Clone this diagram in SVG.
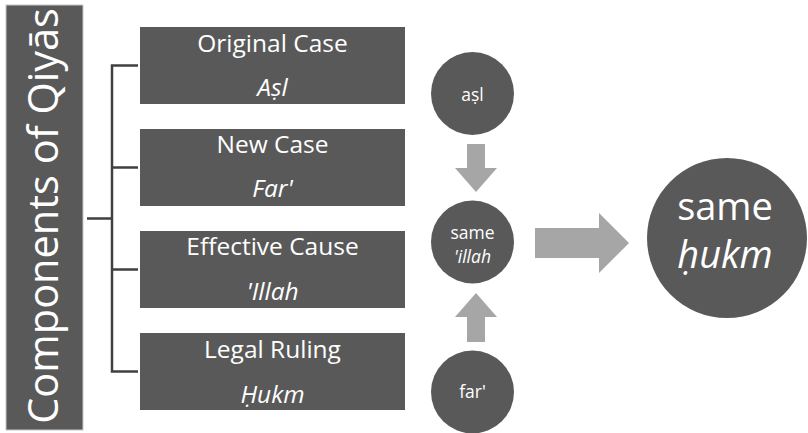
<svg xmlns="http://www.w3.org/2000/svg" width="808" height="433" viewBox="0 0 808 433">
  <style>
    .dark { fill: #595959; }
    .arrow { fill: #a6a6a6; }
    .wire { stroke: #404040; stroke-width: 2.5; fill: none; }
    text { font-family: "Open Sans", "Noto Sans", sans-serif; fill: #ffffff; text-anchor: middle; }
    .box1 { font-size: 24.5px; }
    .box2 { font-size: 24.5px; font-style: italic; }
    .small { font-size: 17.5px; }
    .big { font-size: 38px; }
  </style>

  <!-- title bar -->
  <g id="title">
    <rect x="6" y="5" width="77" height="425" class="dark" stroke="#c8c8c8" stroke-width="1"/>
    <text x="0" y="0" transform="translate(58,216) rotate(-90)" font-size="41.5">Components of Qiyās</text>
  </g>

  <!-- connectors -->
  <g id="connectors">
    <path class="wire" d="M87 218.5 H112 M138 65.5 H112 V371.5 H138 M112 167.5 H138 M112 269.5 H138"/>
    <polygon class="arrow" points="467,144 485,144 485,168 497,168 476,192 455,168 467,168"/>
    <polygon class="arrow" points="467,342 485,342 485,317 497,317 476,293 455,317 467,317"/>
    <polygon class="arrow" points="535,228 599,228 599,213 629,243 599,273 599,258 535,258"/>
  </g>

  <!-- component boxes -->
  <g id="box-asl">
    <rect x="140" y="27" width="265" height="77" class="dark"/>
    <text x="272.5" y="52" class="box1">Original Case</text>
    <text x="272.5" y="96" class="box2">Aṣl</text>
  </g>
  <g id="box-far">
    <rect x="140" y="129" width="265" height="77" class="dark"/>
    <text x="272.5" y="153" class="box1">New Case</text>
    <text x="272.5" y="197" class="box2">Far'</text>
  </g>
  <g id="box-illah">
    <rect x="140" y="231" width="265" height="77" class="dark"/>
    <text x="272.5" y="255" class="box1">Effective Cause</text>
    <text x="272.5" y="300" class="box2">'Illah</text>
  </g>
  <g id="box-hukm">
    <rect x="140" y="333" width="265" height="77" class="dark"/>
    <text x="272.5" y="358" class="box1">Legal Ruling</text>
    <text x="272.5" y="403" class="box2">Ḥukm</text>
  </g>

  <!-- circles -->
  <g id="circle-asl">
    <circle cx="472.5" cy="93.5" r="41.5" class="dark"/>
    <text x="472.5" y="101" class="small">aṣl</text>
  </g>
  <g id="circle-illah">
    <circle cx="472.5" cy="242" r="41.5" class="dark"/>
    <text x="472.5" y="239" class="small">same</text>
    <text x="472.5" y="263" class="small" font-style="italic">'illah</text>
  </g>
  <g id="circle-far">
    <circle cx="472.5" cy="392" r="41.5" class="dark"/>
    <text x="472.5" y="398" class="small">far'</text>
  </g>
  <g id="circle-hukm">
    <circle cx="727" cy="238" r="80" class="dark"/>
    <text x="725" y="220" class="big">same</text>
    <text x="725" y="268" class="big" font-style="italic">ḥukm</text>
  </g>
</svg>
